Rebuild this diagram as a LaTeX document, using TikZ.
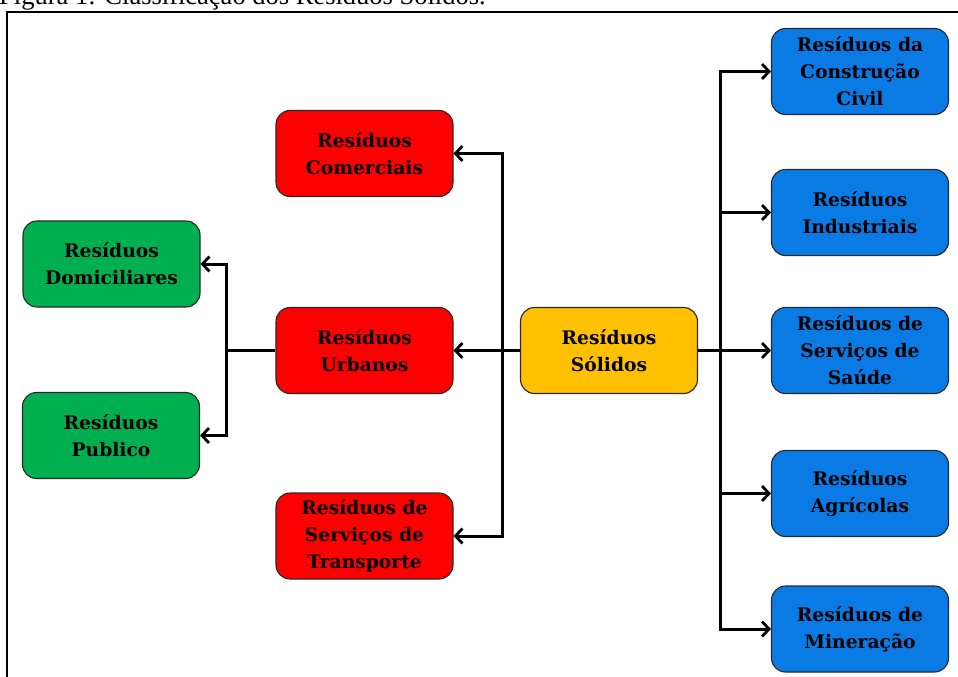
\documentclass[tikz,border=0pt]{standalone}
\usepackage{fontspec}
\setmainfont{Liberation Serif}
\newfontfamily\boxfont{DejaVu Serif}
\usetikzlibrary{arrows.meta}
\definecolor{cred}{RGB}{255,0,0}
\definecolor{cgreen}{RGB}{0,176,80}
\definecolor{cyellow}{RGB}{255,192,0}
\definecolor{cblue}{RGB}{10,122,228}
\definecolor{cborder}{RGB}{40,40,40}
\tikzset{
  wbox/.style={draw=cborder, line width=1.1pt, rounded corners=14pt, minimum width=177pt, minimum height=86pt, align=center, inner sep=0pt,
    font=\boxfont\bfseries\fontsize{18.7}{27}\selectfont, text=black},
  conn/.style={line width=3pt, black},
  arr/.style={conn, -{Straight Barb[length=7pt,width=15pt,line width=2.8pt]}},
}
\begin{document}
\begin{tikzpicture}[x=1pt,y=-1pt]
\useasboundingbox (0,0) rectangle (958,677);
\clip (0,0) rectangle (958,677);
\node[anchor=base west, inner sep=0pt, font=\fontsize{26.5}{30}\selectfont] (cap) at (-1,5) {Figura 1: Classificação dos Resíduos Sólidos.};
\draw[line width=2pt] (6.5,12.5) rectangle (990,720);

% nodes
\node[wbox, fill=cyellow] (sol) at (609,350.5) {Resíduos\\Sólidos};
\node[wbox, fill=cred] (com) at (364.5,153.5) {Resíduos\\Comerciais};
\node[wbox, fill=cred] (urb) at (364.5,350.5) {Resíduos\\Urbanos};
\node[wbox, fill=cred] (tra) at (364.5,536) {Resíduos de\\Serviços de\\Transporte};
\node[wbox, fill=cgreen] (dom) at (111.5,264) {Resíduos\\Domiciliares};
\node[wbox, fill=cgreen] (pub) at (111,435.5) {Resíduos\\Publico};
\node[wbox, fill=cblue] (civ) at (860,71.5) {Resíduos da\\Construção\\Civil};
\node[wbox, fill=cblue] (ind) at (860,212.5) {Resíduos\\Industriais};
\node[wbox, fill=cblue] (sau) at (860,350.5) {Resíduos de\\Serviços de\\Saúde};
\node[wbox, fill=cblue] (agr) at (860,493.5) {Resíduos\\Agrícolas};
\node[wbox, fill=cblue] (min) at (860,629) {Resíduos de\\Mineração};

% junction coordinates
\coordinate (jl) at (502,350.5);
\coordinate (jr) at (720,350.5);
\coordinate (ju) at (226,350.5);

% left tree
\draw[arr] (sol.west) -- (urb.east);
\draw[arr] (jl) |- (com.east);
\draw[arr] (jl) |- (tra.east);
% urbanos tree
\draw[conn] (urb.west) -- (ju);
\draw[arr] (ju) |- (dom.east);
\draw[arr] (ju) |- (pub.east);
% right tree
\draw[arr] (sol.east) -- (sau.west);
\draw[arr] (jr) |- (civ.west);
\draw[arr] (jr) |- (ind.west);
\draw[arr] (jr) |- (agr.west);
\draw[arr] (jr) |- (min.west);
\end{tikzpicture}
\end{document}
